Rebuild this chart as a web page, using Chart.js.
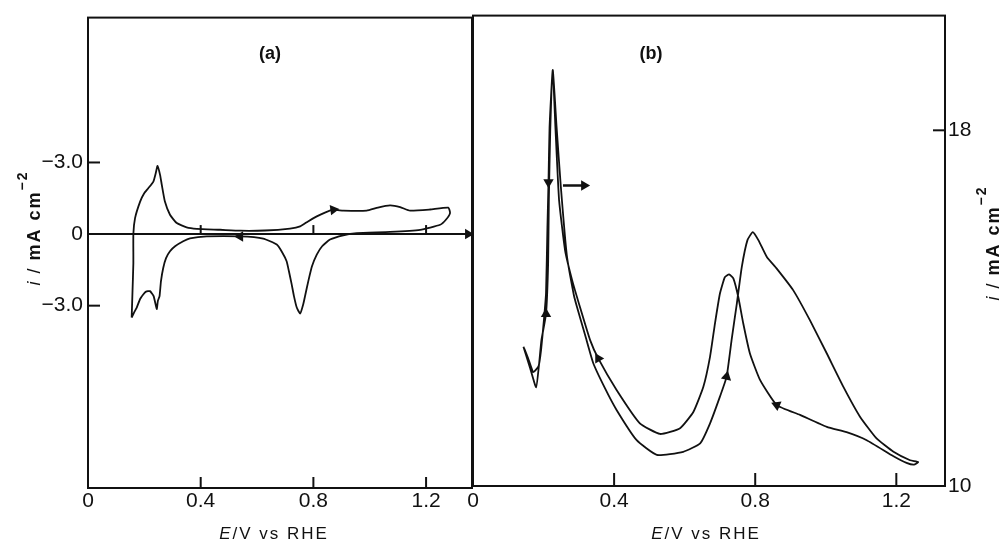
<!DOCTYPE html>
<html>
<head>
<meta charset="utf-8">
<script src="https://cdn.jsdelivr.net/npm/chart.js@4.4.0/dist/chart.umd.min.js"></script>
<style>
    html, body { margin: 0; padding: 0; background: #fff; }
    #wrap { position: relative; width: 999px; height: 545px; overflow: hidden; }
    #chartA { position: absolute; left: 0; top: 0; width: 473px; height: 545px; }
    #chartB { position: absolute; left: 463px; top: 0; width: 536px; height: 545px; }
</style>
</head>
<body>
<div id="wrap">
    <canvas id="chartA" width="473" height="545"></canvas>
    <canvas id="chartB" width="536" height="545"></canvas>
</div>
<script>
// (a) цикл вольтамперограммы, E / V vs RHE и i / mA cm-2
const cvA_E = [0.155, 0.158, 0.161, 0.161, 0.167, 0.185, 0.199, 0.214, 0.232, 0.240,
    0.247, 0.256, 0.262, 0.273, 0.291, 0.315, 0.350, 0.386, 0.469, 0.540,
    0.628, 0.717, 0.753, 0.781, 0.812, 0.841, 0.871, 0.906, 0.989, 1.029,
    1.072, 1.108, 1.143, 1.214, 1.279, 1.285,
    1.271, 1.250, 1.179, 1.072, 0.954, 0.906, 0.859, 0.831, 0.812, 0.795,
    0.782, 0.772, 0.764, 0.753, 0.741, 0.731, 0.723, 0.713, 0.705, 0.689,
    0.670, 0.622, 0.540, 0.421, 0.362, 0.338, 0.309, 0.291, 0.277, 0.267,
    0.259, 0.254, 0.248, 0.244, 0.233, 0.220, 0.206, 0.196, 0.185, 0.173,
    0.163, 0.155];
const cvA_i = [-3.50, -2.39, -1.22, 0, 0.67, 1.36, 1.70, 1.92, 2.20, 2.53,
    2.86, 2.47, 2.06, 1.36, 0.81, 0.46, 0.28, 0.22, 0.18, 0.14,
    0.15, 0.23, 0.32, 0.53, 0.74, 0.90, 1.02, 0.98, 0.98, 1.11,
    1.20, 1.13, 0.98, 1.03, 1.11, 0.88,
    0.61, 0.39, 0.18, 0.09, 0.04, -0.05, -0.23, -0.51, -0.86, -1.35,
    -1.97, -2.51, -2.94, -3.33, -3.08, -2.60, -2.11, -1.55, -1.14, -0.76,
    -0.44, -0.19, -0.10, -0.10, -0.18, -0.30, -0.51, -0.72, -1.01, -1.42,
    -1.97, -2.60, -2.80, -3.14, -2.60, -2.39, -2.41, -2.53, -2.72, -3.08,
    -3.30, -3.50];
const arrowsA_E = [0.871, 0.540, 1.349];
const arrowsA_i = [1.02, -0.10, 0];
const arrowsA_rot = [82, -90, 90];

// (b)
const cvB_E = [0.143, 0.162, 0.179, 0.187, 0.194, 0.207, 0.213, 0.215, 0.219, 0.226,
    0.237, 0.249, 0.266, 0.286, 0.295, 0.318, 0.341, 0.374, 0.407, 0.464,
    0.521, 0.596, 0.644, 0.672, 0.700, 0.719, 0.733, 0.748, 0.762, 0.778,
    0.793, 0.809, 0.833, 0.861, 0.908, 0.955, 1.003, 1.050, 1.097, 1.144,
    1.192, 1.239, 1.262,
    1.250, 1.229, 1.192, 1.116, 1.059, 1.003, 0.927, 0.861, 0.814, 0.785,
    0.766, 0.752, 0.738, 0.726, 0.714, 0.700, 0.686, 0.672, 0.653, 0.625,
    0.587, 0.530, 0.473, 0.407, 0.355, 0.332, 0.303, 0.281, 0.261, 0.244,
    0.234, 0.226, 0.217, 0.214, 0.211, 0.207, 0.201, 0.193, 0.186, 0.171,
    0.156, 0.146, 0.143];
const cvB_i = [13.13, 12.65, 12.22, 12.72, 13.28, 13.87, 15.01, 16.43, 18.00, 19.36,
    18.07, 16.73, 15.19, 14.29, 14.02, 13.39, 12.76, 12.20, 11.71, 11.03,
    10.70, 10.77, 10.96, 11.41, 12.01, 12.46, 13.28, 14.11, 14.93, 15.53,
    15.71, 15.53, 15.15, 14.89, 14.40, 13.73, 12.98, 12.23, 11.56, 11.07,
    10.77, 10.58, 10.54,
    10.48, 10.52, 10.67, 11.03, 11.21, 11.33, 11.60, 11.82, 12.38, 12.98,
    13.66, 14.25, 14.67, 14.76, 14.70, 14.33, 13.66, 12.91, 12.23, 11.67,
    11.30, 11.17, 11.41, 12.16, 12.87, 13.28, 14.03, 14.63, 15.30, 16.43,
    18.00, 19.35, 18.07, 16.83, 15.83, 14.34, 13.73, 13.06, 12.70, 12.56,
    12.88, 13.08, 13.13];
const arrowsB_E = [0.207, 0.214, 0.355, 0.719, 0.861, 0.315];
const arrowsB_i = [13.87, 16.83, 12.87, 12.46, 11.82, 16.76];
const arrowsB_rot = [0, 180, -30, 12, -67, 90];
const axisArrowB_E = [0.255, 0.31];
const axisArrowB_i = [16.76, 16.76];

// деления осей
const ticksA_x = [0, 0.4, 0.8, 1.2];
const tickLabelsA_x = ['0', '0.4', '0.8', '1.2'];
const ticksA_y = [3, 0, -3];
const tickLabelsA_y = ['\u22123.0', '0', '\u22123.0'];
const ticksB_x = [0, 0.4, 0.8, 1.2];
const tickLabelsB_x = ['0', '0.4', '0.8', '1.2'];
const ticksB_y = [10, 18];
const tickLabelsB_y = ['10', '18'];

const INK = '#111';
const FAMILY = '"Liberation Sans", Arial, Helvetica, sans-serif';
Chart.defaults.font.family = FAMILY;
Chart.defaults.color = INK;

function toPoints(xs, ys) {
    return xs.map((x, k) => ({ x: x, y: ys[k] }));
}

function fixedTicks(values) {
    return scale => { scale.ticks = values.map(v => ({ value: v })); };
}

function labelFor(values, labels) {
    return value => {
        const k = values.indexOf(value);
        return k >= 0 ? labels[k] : '';
    };
}

// текст из кусков с разными шрифтами (курсив, жирный, индекс)
function drawRuns(ctx, runs, x, y, angle, spacing) {
    ctx.save();
    ctx.translate(x, y);
    ctx.rotate(angle);
    ctx.textAlign = 'left';
    ctx.textBaseline = 'alphabetic';
    ctx.fillStyle = INK;
    ctx.letterSpacing = spacing;
    let total = 0;
    runs.forEach(r => {
        ctx.font = r.font;
        r.w = ctx.measureText(r.text).width;
        total += r.w + (r.gap || 0);
    });
    let cx = -total / 2;
    runs.forEach(r => {
        ctx.font = r.font;
        ctx.fillText(r.text, cx, r.dy || 0);
        cx += r.w + (r.gap || 0);
    });
    ctx.restore();
}

const yTitleRuns = () => [
    { text: 'i', font: 'italic 18px ' + FAMILY, gap: 6 },
    { text: '/', font: '18px ' + FAMILY, gap: 6 },
    { text: 'mA cm', font: 'bold 18px ' + FAMILY },
    { text: '\u22122', font: 'bold 14px ' + FAMILY, dy: -13 }
];
const xTitleRuns = () => [
    { text: 'E', font: 'italic 17px ' + FAMILY },
    { text: '/V vs RHE', font: '17px ' + FAMILY }
];

function line(ctx, x1, y1, x2, y2) {
    ctx.beginPath();
    ctx.moveTo(x1, y1);
    ctx.lineTo(x2, y2);
    ctx.stroke();
}

const frameA = {
    id: 'frameA',
    afterDraw(chart) {
        const { ctx, chartArea: a, scales } = chart;
        ctx.save();
        ctx.strokeStyle = INK;
        ctx.lineWidth = 2;
        ctx.strokeRect(a.left, a.top, a.right - a.left, a.bottom - a.top);

        // нулевая линия с делениями
        const y0 = scales.y.getPixelForValue(0);
        const xEnd = scales.x.getPixelForValue(arrowsA_E[2]);
        line(ctx, a.left, y0, xEnd, y0);
        ticksA_x.filter(v => v > 0).forEach(v => {
            const px = scales.x.getPixelForValue(v);
            line(ctx, px, y0, px, y0 - 9);
            line(ctx, px, a.bottom, px, a.bottom - 11);
        });
        ticksA_y.filter(v => v !== 0).forEach(v => {
            const py = scales.y.getPixelForValue(v);
            line(ctx, a.left, py, a.left + 12, py);
        });
        ctx.restore();

        ctx.save();
        ctx.fillStyle = INK;
        ctx.font = 'bold 18px ' + FAMILY;
        ctx.textAlign = 'center';
        ctx.textBaseline = 'middle';
        ctx.fillText('(a)', 270, 54);
        ctx.restore();

        drawRuns(ctx, yTitleRuns(), 40, 228, -Math.PI / 2, '2px');
        drawRuns(ctx, xTitleRuns(), 274, 539, 0, '2px');
    }
};

const frameB = {
    id: 'frameB',
    afterDraw(chart) {
        const { ctx, chartArea: a, scales } = chart;
        ctx.save();
        ctx.strokeStyle = INK;
        ctx.lineWidth = 2;
        ctx.strokeRect(a.left, a.top, a.right - a.left, a.bottom - a.top);
        ticksB_x.filter(v => v > 0).forEach(v => {
            const px = scales.x.getPixelForValue(v);
            line(ctx, px, a.bottom, px, a.bottom - 13);
        });
        ticksB_y.filter(v => v > 10).forEach(v => {
            const py = scales.y.getPixelForValue(v);
            line(ctx, a.right, py, a.right - 12, py);
        });
        ctx.restore();

        ctx.save();
        ctx.fillStyle = INK;
        ctx.font = 'bold 18px ' + FAMILY;
        ctx.textAlign = 'center';
        ctx.textBaseline = 'middle';
        ctx.fillText('(b)', 651 - 463, 54);
        ctx.restore();

        drawRuns(ctx, yTitleRuns(), 999 - 463, 243, -Math.PI / 2, '2px');
        drawRuns(ctx, xTitleRuns(), 706 - 463, 539, 0, '2px');
    }
};

const curveStyle = {
    showLine: true,
    borderColor: INK,
    borderWidth: 1.8,
    pointRadius: 0,
    tension: 0.15,
    fill: false
};

const arrowStyle = {
    showLine: false,
    pointStyle: 'triangle',
    pointRadius: 6,
    backgroundColor: INK,
    borderColor: INK,
    borderWidth: 0
};

const tickFont = { size: 21, family: FAMILY };

new Chart(document.getElementById('chartA'), {
    type: 'scatter',
    data: {
        datasets: [
            Object.assign({ data: toPoints(cvA_E, cvA_i) }, curveStyle),
            Object.assign({ data: toPoints(arrowsA_E, arrowsA_i), rotation: arrowsA_rot }, arrowStyle)
        ]
    },
    options: {
        responsive: false,
        animation: false,
        events: [],
        layout: { autoPadding: false, padding: { top: 15, right: 1, left: 0, bottom: 0 } },
        plugins: { legend: { display: false }, tooltip: { enabled: false } },
        scales: {
            x: {
                type: 'linear',
                min: 0,
                max: 1.363,
                grid: { display: false, drawTicks: false },
                border: { display: false },
                afterBuildTicks: fixedTicks(ticksA_x),
                afterFit: s => { s.height = 57; },
                ticks: {
                    font: tickFont, padding: 1, maxRotation: 0, autoSkip: false,
                    callback: labelFor(ticksA_x, tickLabelsA_x)
                }
            },
            y: {
                type: 'linear',
                min: -10.64,
                max: 9.07,
                grid: { display: false, drawTicks: false },
                border: { display: false },
                afterBuildTicks: fixedTicks(ticksA_y),
                afterFit: s => { s.width = 88; },
                ticks: {
                    font: tickFont, padding: 5, autoSkip: false,
                    callback: labelFor(ticksA_y, tickLabelsA_y)
                }
            }
        }
    },
    plugins: [frameA]
});

new Chart(document.getElementById('chartB'), {
    type: 'scatter',
    data: {
        datasets: [
            Object.assign({ data: toPoints(cvB_E, cvB_i) }, curveStyle),
            Object.assign({ data: toPoints(axisArrowB_E, axisArrowB_i) }, curveStyle, { borderWidth: 2.5, tension: 0 }),
            Object.assign({ data: toPoints(arrowsB_E, arrowsB_i), rotation: arrowsB_rot }, arrowStyle)
        ]
    },
    options: {
        responsive: false,
        animation: false,
        events: [],
        layout: { autoPadding: false, padding: { top: 15, left: 10, right: 0, bottom: 0 } },
        plugins: { legend: { display: false }, tooltip: { enabled: false } },
        scales: {
            x: {
                type: 'linear',
                min: 0,
                max: 1.338,
                grid: { display: false, drawTicks: false },
                border: { display: false },
                afterBuildTicks: fixedTicks(ticksB_x),
                afterFit: s => { s.height = 59; },
                ticks: {
                    font: tickFont, padding: 3, maxRotation: 0, autoSkip: false,
                    callback: labelFor(ticksB_x, tickLabelsB_x)
                }
            },
            y: {
                type: 'linear',
                position: 'right',
                min: 10,
                max: 20.58,
                grid: { display: false, drawTicks: false },
                border: { display: false },
                afterBuildTicks: fixedTicks(ticksB_y),
                afterFit: s => { s.width = 54; },
                ticks: {
                    font: tickFont, padding: 3, autoSkip: false,
                    callback: labelFor(ticksB_y, tickLabelsB_y)
                }
            }
        }
    },
    plugins: [frameB]
});
</script>
</body>
</html>
